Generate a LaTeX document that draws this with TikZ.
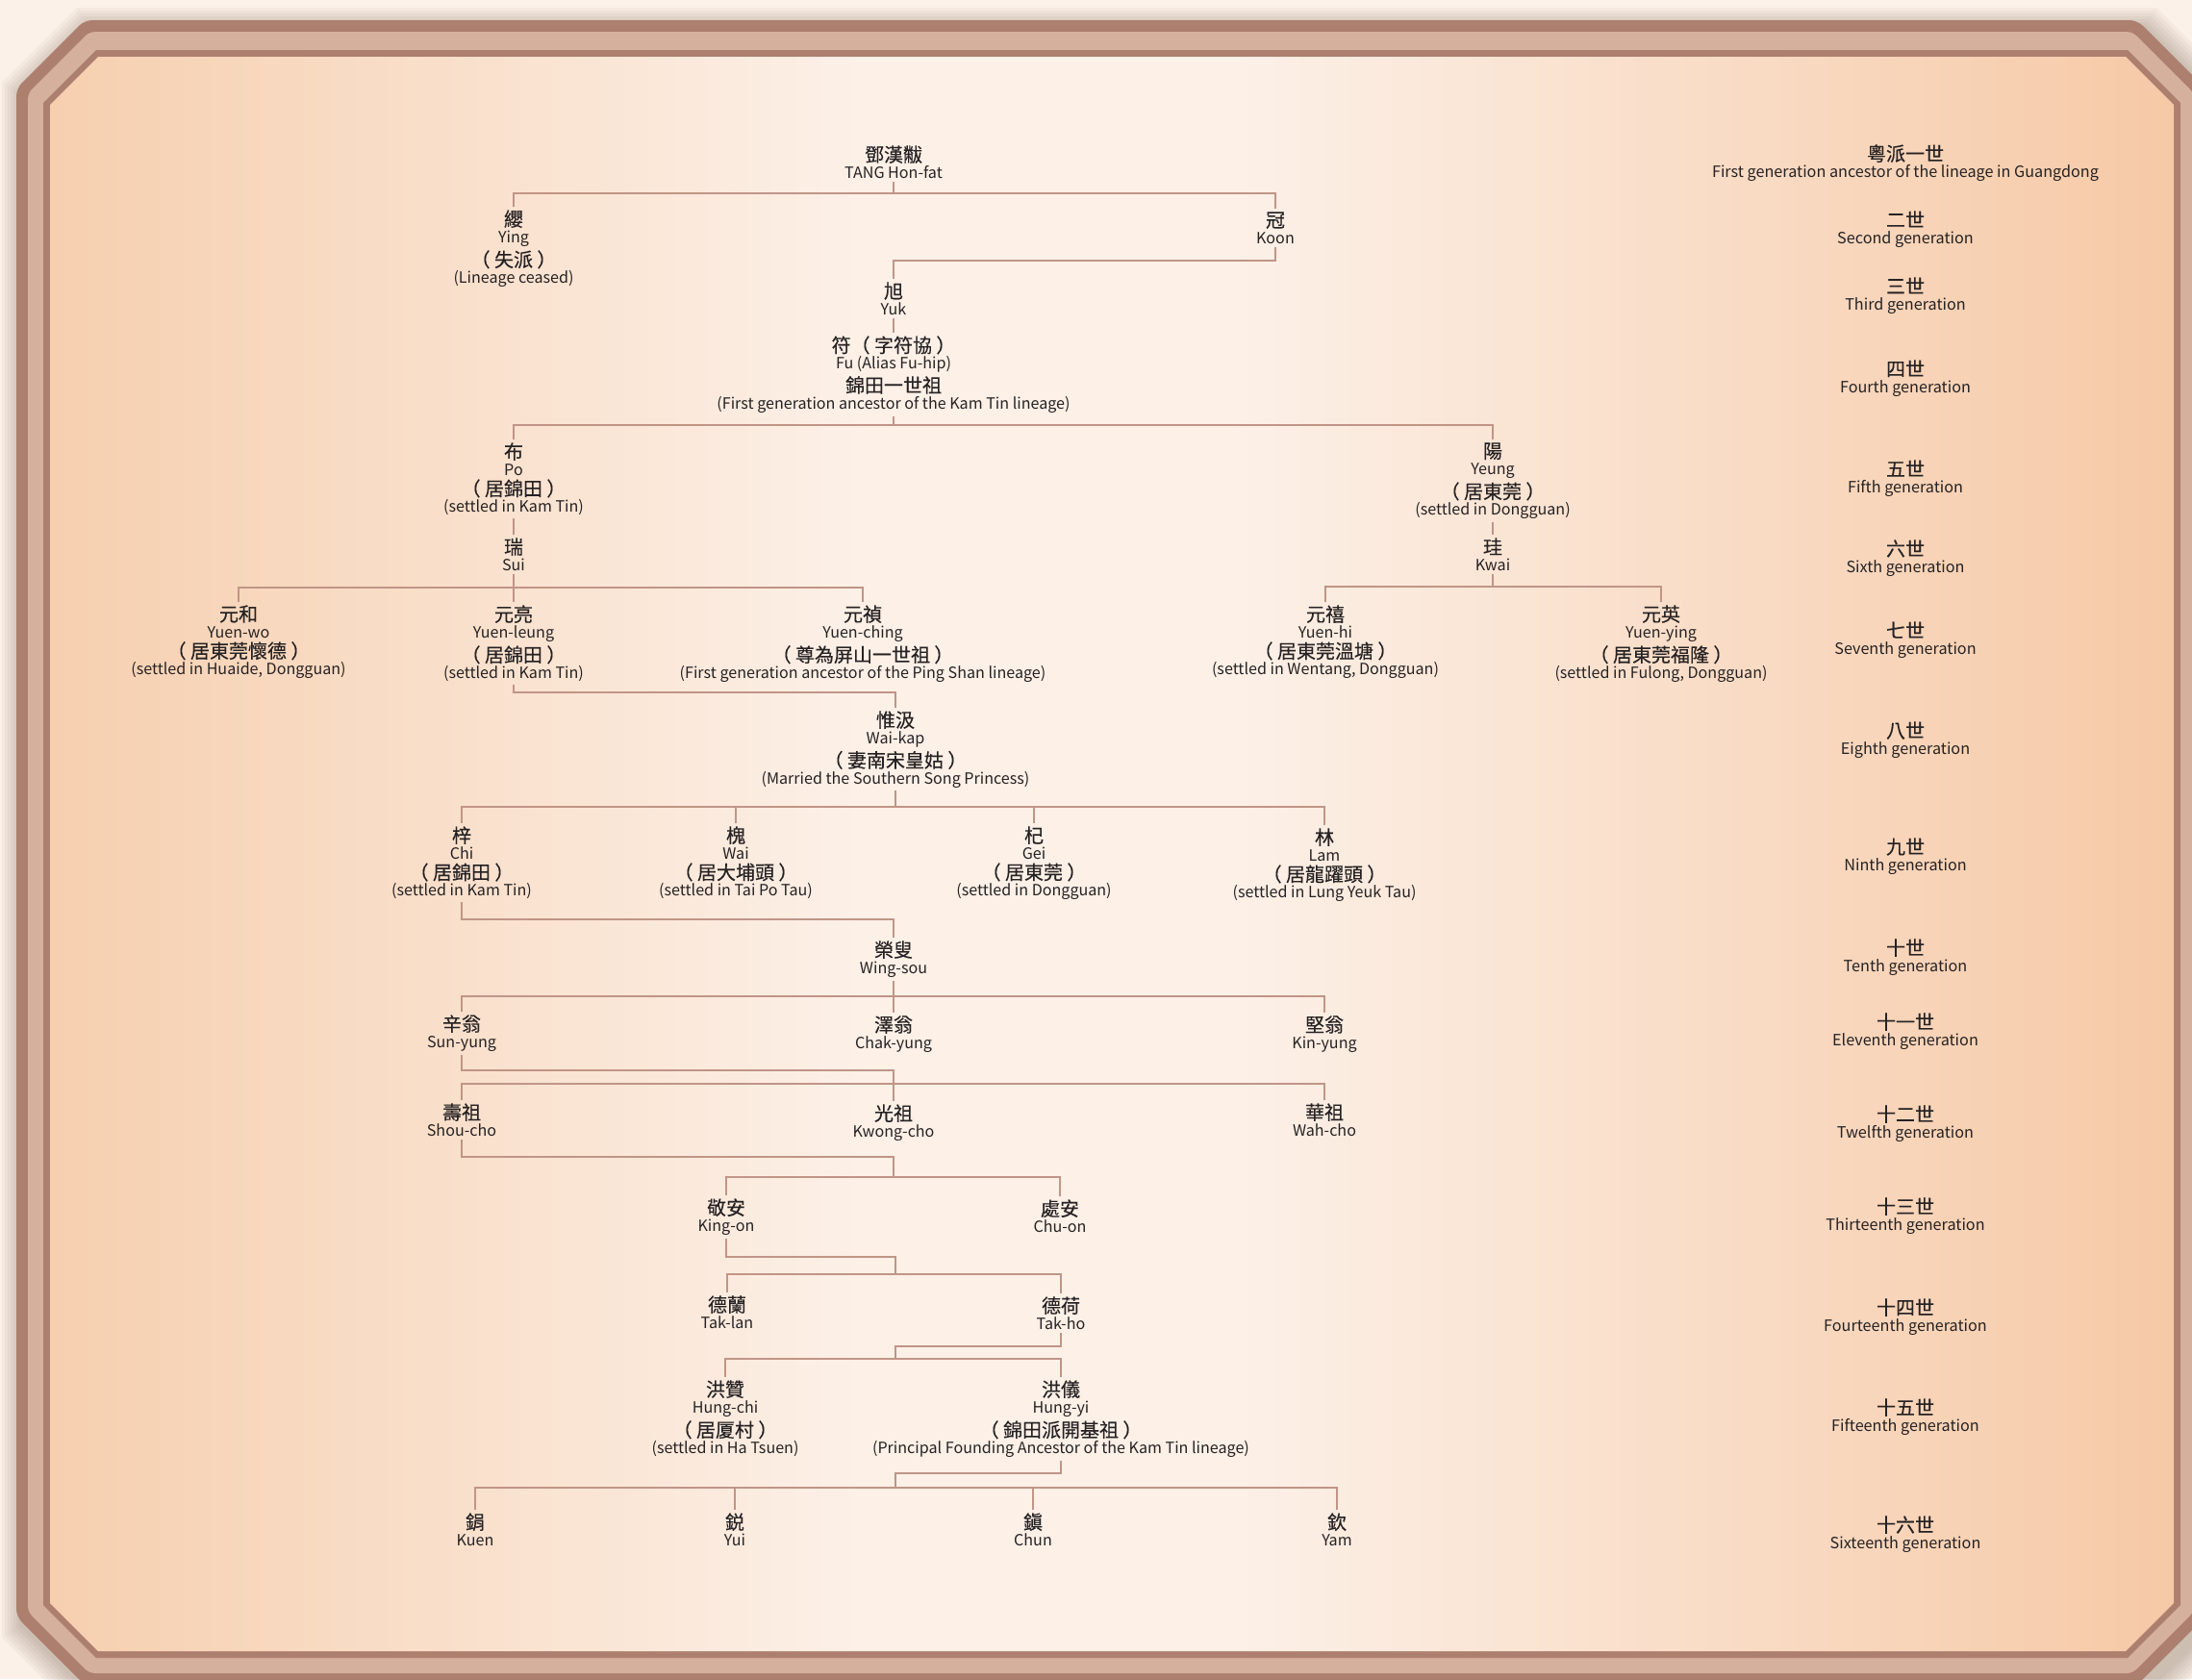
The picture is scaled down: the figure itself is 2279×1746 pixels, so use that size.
\documentclass[tikz,border=0pt]{standalone}
\usepackage{fontspec}
\setmainfont{Noto Sans CJK TC}
\newfontfamily\ZhFace{Noto Sans CJK TC}[FakeBold=0.25]
\definecolor{bgc}{HTML}{FBF1E8}
\definecolor{shadowc}{HTML}{5A3C2C}
\definecolor{framedark}{HTML}{AD7F6F}
\definecolor{framelight}{HTML}{D5B09D}
\definecolor{panL}{HTML}{F6CFAF}
\definecolor{panC}{HTML}{FCF0E7}
\definecolor{panR}{HTML}{F6C9A6}
\definecolor{linkc}{HTML}{C09587}
\definecolor{inkc}{HTML}{262223}
\pgfdeclarehorizontalshading{panelshade}{100bp}{color(0bp)=(panL); color(25bp)=(panL); color(44bp)=(panC); color(53bp)=(panC); color(75bp)=(panR); color(100bp)=(panR)}
\newcommand\Zh{\ZhFace\fontsize{10pt}{8.5pt}\selectfont}
\newcommand\En{\fontsize{8.05pt}{8.5pt}\selectfont}
\newcommand\GenFont{\fontsize{8.1pt}{8.6pt}\selectfont}
\newcommand\Lp{（\kern2.2pt}
\newcommand\Rp{\kern2.2pt）}
\newcommand\Pname[2]{{\Zh #1}\\#2}
\newcommand\Pfull[4]{{\Zh #1}\\#2\\[1pt]{\Zh #3}\\#4}
\newcommand\octo[5]{({#1+(#5)},{#2}) -- ({#3-(#5)},{#2}) -- ({#3},{#2+(#5)}) -- ({#3},{#4-(#5)}) -- ({#3-(#5)},{#4}) -- ({#1+(#5)},{#4}) -- ({#1},{#4-(#5)}) -- ({#1},{#2+(#5)}) -- cycle}
\tikzset{
  person/.style={
    anchor = north,
    align = center,
    inner xsep = 1pt,
    inner ysep = 1.5pt,
    text = inkc,
    font = \En
  },
}
\tikzset{
  gen/.style={
    anchor = north,
    align = center,
    inner xsep = 1pt,
    inner ysep = 1.5pt,
    text = inkc,
    font = \GenFont
  },
}
\tikzset{
  kin/.style={
    draw = linkc,
    line width = 1.3pt
  },
}
\begin{document}
\begin{tikzpicture}[x=0.5pt,y=-0.5pt]
  \useasboundingbox (0,0) rectangle (2279,1746);
  \clip (0,0) rectangle (2279,1746);
  % frame
  \fill[bgc] (0,0) rectangle (2279,1746);
  \foreach \k in {1,...,7}
    \fill[shadowc,opacity=0.045] \octo{23-3*\k}{29-3*\k}{2299+3*\k}{1760+3*\k}{71+\k};
  \fill[framedark,rounded corners=4pt] \octo{17}{21}{2293}{1752}{71};
  \fill[framelight,rounded corners=3pt] \octo{29}{33}{2281}{1740}{64};
  \fill[framedark] \octo{45}{52}{2267}{1724}{55};
  \shade[shading=panelshade] \octo{52}{59}{2260}{1717}{50};

  % first to fourth generation
  \node[person] (tang) at (929,148) {\Pname{鄧漢黻}{TANG Hon-fat}};
  \node[person] (ying) at (534,215) {\Pfull{纓}{Ying}{\Lp 失派\Rp}{(Lineage ceased)}};
  \node[person] (koon) at (1326,217) {\Pname{冠}{Koon}};
  \node[person] (yuk) at (929,290) {\Pname{旭}{Yuk}};
  \node[person] (fu) at (929,346) {\Pfull{符\Lp 字符協\Rp}{Fu (Alias Fu-hip)}{錦田一世祖}{(First generation ancestor of the Kam Tin lineage)}};

  % fifth to seventh generation
  \node[person] (po) at (534,457) {\Pfull{布}{Po}{\Lp 居錦田\Rp}{(settled in Kam Tin)}};
  \node[person] (yeung) at (1552,457) {\Pfull{陽}{Yeung}{\Lp 居東莞\Rp}{(settled in Dongguan)}};
  \node[person] (sui) at (534,556) {\Pname{瑞}{Sui}};
  \node[person] (kwai) at (1552,556) {\Pname{珪}{Kwai}};
  \node[person] (yuenwo) at (248,626) {\Pfull{元和}{Yuen-wo}{\Lp 居東莞懷德\Rp}{(settled in Huaide, Dongguan)}};
  \node[person] (yuenleung) at (534,626) {\Pfull{元亮}{Yuen-leung}{\Lp 居錦田\Rp}{(settled in Kam Tin)}};
  \node[person] (yuenching) at (897,626) {\Pfull{元禎}{Yuen-ching}{\Lp 尊為屏山一世祖\Rp}{(First generation ancestor of the Ping Shan lineage)}};
  \node[person] (yuenhi) at (1378,626) {\Pfull{元禧}{Yuen-hi}{\Lp 居東莞溫塘\Rp}{(settled in Wentang, Dongguan)}};
  \node[person] (yuenying) at (1727,626) {\Pfull{元英}{Yuen-ying}{\Lp 居東莞福隆\Rp}{(settled in Fulong, Dongguan)}};

  % eighth to tenth generation
  \node[person] (waikap) at (931,736) {\Pfull{惟汲}{Wai-kap}{\Lp 妻南宋皇姑\Rp}{(Married the Southern Song Princess)}};
  \node[person] (chi) at (480,856) {\Pfull{梓}{Chi}{\Lp 居錦田\Rp}{(settled in Kam Tin)}};
  \node[person] (wai) at (765,856) {\Pfull{槐}{Wai}{\Lp 居大埔頭\Rp}{(settled in Tai Po Tau)}};
  \node[person] (gei) at (1075,856) {\Pfull{杞}{Gei}{\Lp 居東莞\Rp}{(settled in Dongguan)}};
  \node[person] (lam) at (1377,858) {\Pfull{林}{Lam}{\Lp 居龍躍頭\Rp}{(settled in Lung Yeuk Tau)}};
  \node[person] (wingsou) at (929,975) {\Pname{榮叟}{Wing-sou}};

  % eleventh to sixteenth generation
  \node[person] (sunyung) at (480,1052) {\Pname{辛翁}{Sun-yung}};
  \node[person] (chakyung) at (929,1053) {\Pname{澤翁}{Chak-yung}};
  \node[person] (kinyung) at (1377,1053) {\Pname{堅翁}{Kin-yung}};
  \node[person] (shoucho) at (480,1144) {\Pname{壽祖}{Shou-cho}};
  \node[person] (kwongcho) at (929,1145) {\Pname{光祖}{Kwong-cho}};
  \node[person] (wahcho) at (1377,1144) {\Pname{華祖}{Wah-cho}};
  \node[person] (kingon) at (755,1243) {\Pname{敬安}{King-on}};
  \node[person] (chuon) at (1102,1244) {\Pname{處安}{Chu-on}};
  \node[person] (taklan) at (756,1344) {\Pname{德蘭}{Tak-lan}};
  \node[person] (takho) at (1103,1345) {\Pname{德荷}{Tak-ho}};
  \node[person] (hungchi) at (754,1432) {\Pfull{洪贊}{Hung-chi}{\Lp 居厦村\Rp}{(settled in Ha Tsuen)}};
  \node[person] (hungyi) at (1103,1432) {\Pfull{洪儀}{Hung-yi}{\Lp 錦田派開基祖\Rp}{(Principal Founding Ancestor of the Kam Tin lineage)}};
  \node[person] (kuen) at (494,1570) {\Pname{鋗}{Kuen}};
  \node[person] (yui) at (764,1570) {\Pname{鋭}{Yui}};
  \node[person] (chun) at (1074,1570) {\Pname{鎭}{Chun}};
  \node[person] (yam) at (1390,1570) {\Pname{欽}{Yam}};

  % generation column
  \foreach \y/\zhg/\eng [count=\i] in {
      147/粵派一世/First generation ancestor of the lineage in Guangdong,
      216/二世/Second generation, 285/三世/Third generation,
      371/四世/Fourth generation, 475/五世/Fifth generation,
      558/六世/Sixth generation, 643/七世/Seventh generation,
      747/八世/Eighth generation, 868/九世/Ninth generation,
      973/十世/Tenth generation, 1050/十一世/Eleventh generation,
      1146/十二世/Twelfth generation, 1242/十三世/Thirteenth generation,
      1347/十四世/Fourteenth generation, 1451/十五世/Fifteenth generation,
      1573/十六世/Sixteenth generation}
    \node[gen] (g\i) at (1981,\y) {{\Zh \zhg}\\\eng};

  % junctions
  \coordinate (b2) at (tang.south |- 0,201);
  \coordinate (j3) at (yuk.north |- 0,271);
  \coordinate (b5) at (fu.south |- 0,442);
  \coordinate (b7l) at (sui.south |- 0,611);
  \coordinate (b7r) at (kwai.south |- 0,610);
  \coordinate (j8) at (waikap.north |- 0,720);
  \coordinate (b9) at (waikap.south |- 0,839);
  \coordinate (j10) at (wingsou.north |- 0,956);
  \coordinate (b11) at (wingsou.south |- 0,1036);
  \coordinate (j12) at (kwongcho.north |- 0,1113);
  \coordinate (b12) at (kwongcho.north |- 0,1127);
  \coordinate (j13) at (929,1203);
  \coordinate (b13) at (929,1224);
  \coordinate (j14) at (931,1307);
  \coordinate (b14) at (931,1325);
  \coordinate (j15) at (931,1400);
  \coordinate (b15) at (931,1413);
  \coordinate (j16) at (931,1532);
  \coordinate (b16) at (931,1547);

  % connectors
  \draw[kin] (tang.south) -- (b2);
  \foreach \c in {ying,koon} \draw[kin] (b2) -| (\c.north);
  \draw[kin] (koon.south) |- (j3) -- (yuk.north);
  \draw[kin] (yuk.south) -- (fu.north);
  \draw[kin] (fu.south) -- (b5);
  \foreach \c in {po,yeung} \draw[kin] (b5) -| (\c.north);
  \draw[kin] (po.south) -- (sui.north);
  \draw[kin] (yeung.south) -- (kwai.north);
  \draw[kin] (sui.south) -- (b7l);
  \foreach \c in {yuenwo,yuenleung,yuenching} \draw[kin] (b7l) -| (\c.north);
  \draw[kin] (kwai.south) -- (b7r);
  \foreach \c in {yuenhi,yuenying} \draw[kin] (b7r) -| (\c.north);
  \draw[kin] (yuenleung.south) |- (j8) -- (waikap.north);
  \draw[kin] (waikap.south) -- (b9);
  \foreach \c in {chi,wai,gei,lam} \draw[kin] (b9) -| (\c.north);
  \draw[kin] (chi.south) |- (j10) -- (wingsou.north);
  \draw[kin] (wingsou.south) -- (b11);
  \foreach \c in {sunyung,chakyung,kinyung} \draw[kin] (b11) -| (\c.north);
  \draw[kin] (sunyung.south) |- (j12) -- (b12);
  \foreach \c in {shoucho,kwongcho,wahcho} \draw[kin] (b12) -| (\c.north);
  \draw[kin] (shoucho.south) |- (j13) -- (b13);
  \foreach \c in {kingon,chuon} \draw[kin] (b13) -| (\c.north);
  \draw[kin] (kingon.south) |- (j14) -- (b14);
  \foreach \c in {taklan,takho} \draw[kin] (b14) -| (\c.north);
  \draw[kin] (takho.south) |- (j15) -- (b15);
  \foreach \c in {hungchi,hungyi} \draw[kin] (b15) -| (\c.north);
  \draw[kin] (hungyi.south) |- (j16) -- (b16);
  \foreach \c in {kuen,yui,chun,yam} \draw[kin] (b16) -| (\c.north);
\end{tikzpicture}
\end{document}
